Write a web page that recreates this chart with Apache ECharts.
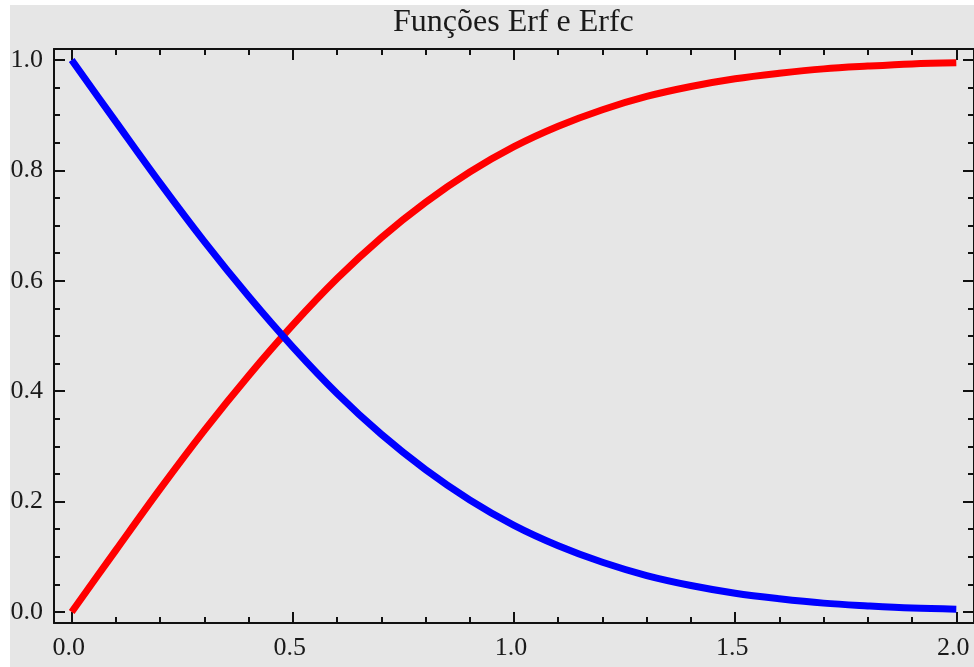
<!DOCTYPE html>
<html>
<head>
<meta charset="utf-8">
<script src="https://cdn.jsdelivr.net/npm/echarts@6/dist/echarts.min.js"></script>
<style>
html,body{margin:0;padding:0;background:#ffffff;}
#chart{width:974px;height:667px;}
</style>
</head>
<body>
<div id="chart"></div>
<script>
// ---- data ----
const titleText = 'Funções Erf e Erfc';
const xValues = [0.0,0.1,0.2,0.3,0.4,0.5,0.6,0.7,0.8,0.9,1.0,1.1,1.2,1.3,1.4,1.5,1.6,1.7,1.8,1.9,2.0];
const erfValues = [0.000,0.112,0.223,0.329,0.428,0.520,0.604,0.678,0.742,0.797,0.843,0.880,0.910,0.934,0.952,0.966,0.976,0.984,0.989,0.993,0.995];
const erfcValues = [1.000,0.888,0.777,0.671,0.572,0.480,0.396,0.322,0.258,0.203,0.157,0.120,0.090,0.066,0.048,0.034,0.024,0.016,0.011,0.007,0.005];
const xMajorTicks = [0.0,0.5,1.0,1.5,2.0];
const xTickLabels = ['0.0','0.5','1.0','1.5','2.0'];
const xMinorTicks = [0.1,0.2,0.3,0.4,0.6,0.7,0.8,0.9,1.1,1.2,1.3,1.4,1.6,1.7,1.8,1.9];
const yMajorTicks = [0.0,0.2,0.4,0.6,0.8,1.0];
const yTickLabels = ['0.0','0.2','0.4','0.6','0.8','1.0'];
const yMinorTicks = [0.05,0.1,0.15,0.25,0.3,0.35,0.45,0.5,0.55,0.65,0.7,0.75,0.85,0.9,0.95];

const xRange = [-0.04, 2.04];
const yRange = [-0.02, 1.02];

const erfData = xValues.map((x,i)=>[x, erfValues[i]]);
const erfcData = xValues.map((x,i)=>[x, erfcValues[i]]);

const frameColor = '#111111';
const labelFont = {fontFamily:'Liberation Serif', fontSize:26, color:'#1a1a1a'};

function mkX(pos, ticks, len, showLine, labels){
  return {
    type:'value', position:pos, min:xRange[0], max:xRange[1],
    axisLine:{show:showLine, onZero:false, lineStyle:{color:frameColor, width:2}},
    axisTick:{show:true, inside:true, length:len, customValues:ticks, lineStyle:{color:frameColor, width:2}},
    axisLabel: labels ? Object.assign({show:true, customValues:ticks, margin:12, padding:[0,6,0,0],
      formatter:(v)=>{const i=xMajorTicks.findIndex(t=>Math.abs(t-v)<1e-9); return i>=0?xTickLabels[i]:'';}}, labelFont) : {show:false},
    splitLine:{show:false}, minorTick:{show:false}
  };
}
function mkY(pos, ticks, len, showLine, labels){
  return {
    type:'value', position:pos, min:yRange[0], max:yRange[1],
    axisLine:{show:showLine, onZero:false, lineStyle:{color:frameColor, width:2}},
    axisTick:{show:true, inside:true, length:len, customValues:ticks, lineStyle:{color:frameColor, width:2}},
    axisLabel: labels ? Object.assign({show:true, customValues:ticks, margin:11,
      formatter:(v)=>{const i=yMajorTicks.findIndex(t=>Math.abs(t-v)<1e-9); return i>=0?yTickLabels[i]:'';}}, labelFont) : {show:false},
    splitLine:{show:false}, minorTick:{show:false}
  };
}

const chart = echarts.init(document.getElementById('chart'), null, {renderer:'canvas'});
chart.setOption({
  backgroundColor:'#ffffff',
  animation:false,
  graphic:[{type:'rect', z:-100, silent:true, shape:{x:10,y:5,width:964,height:662}, style:{fill:'#e6e6e6'}}],
  title:{text:titleText, left:393, top:7, padding:0,
    textStyle:{fontFamily:'Liberation Serif', fontSize:32, fontWeight:'normal', color:'#1a1a1a'}},
  grid:{left:54, top:49, right:-4, bottom:44, containLabel:false},
  xAxis:[
    mkX('bottom', xMajorTicks, 11, true, true),
    mkX('bottom', xMinorTicks, 6, false, false),
    mkX('top', xMajorTicks, 11, true, false),
    mkX('top', xMinorTicks, 6, false, false)
  ],
  yAxis:[
    mkY('left', yMajorTicks, 11, true, true),
    mkY('left', yMinorTicks, 6, false, false),
    mkY('right', yMajorTicks, 11, true, false),
    mkY('right', yMinorTicks, 6, false, false)
  ],
  series:[
    {type:'line', name:'Erf', data:erfData, xAxisIndex:0, yAxisIndex:0, smooth:0.35, showSymbol:false,
      lineStyle:{color:'#ff0000', width:7}},
    {type:'line', name:'Erfc', data:erfcData, xAxisIndex:0, yAxisIndex:0, smooth:0.35, showSymbol:false,
      lineStyle:{color:'#0000ff', width:7}}
  ]
});
</script>
</body>
</html>
